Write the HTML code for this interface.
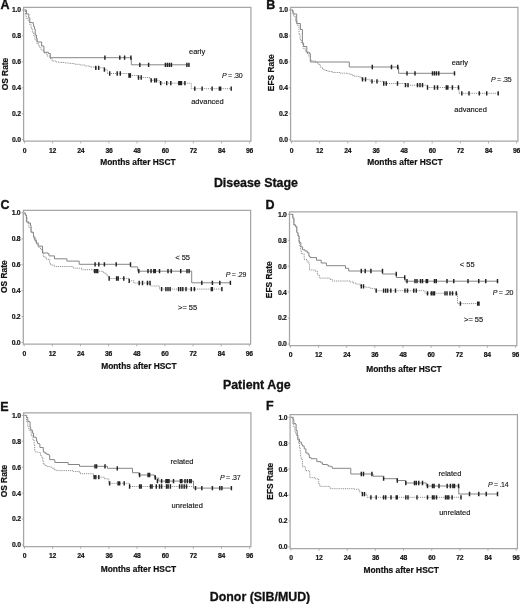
<!DOCTYPE html>
<html><head><meta charset="utf-8"><style>
html,body{margin:0;padding:0;background:#fff;width:520px;height:604px;overflow:hidden}
svg{display:block;filter:blur(0.3px)}
text{font-family:"Liberation Sans",sans-serif;fill:#111}
.tl{font-size:6.8px;font-weight:bold;letter-spacing:-0.25px;stroke:#111;stroke-width:0.18px}
.at{font-size:8.4px;font-weight:bold;stroke:#111;stroke-width:0.2px}
.pl{font-size:12.5px;font-weight:bold;stroke:#111;stroke-width:0.35px}
.tt{font-size:12.4px;font-weight:bold;stroke:#111;stroke-width:0.3px}
.lb{font-size:7.5px;stroke:#222;stroke-width:0.15px}
.pv{font-size:7px;letter-spacing:-0.3px;stroke:#222;stroke-width:0.12px}
</style></head><body>
<svg width="520" height="604" viewBox="0 0 520 604">
<path d="M23.6 7.4H250.92V141.2H23.6Z" fill="none" stroke="#a6a6a6" stroke-width="1.25"/>
<path d="M24.5 141.2v2.2M52.64 141.2v2.2M80.78 141.2v2.2M108.92 141.2v2.2M137.06 141.2v2.2M165.2 141.2v2.2M193.34 141.2v2.2M221.48 141.2v2.2M249.62 141.2v2.2M23.6 139.6h-1.8M23.6 113.68h-1.8M23.6 87.76h-1.8M23.6 61.84h-1.8M23.6 35.92h-1.8M23.6 10h-1.8" stroke="#a6a6a6" stroke-width="0.9" fill="none"/>
<text x="24.5" y="152.8" class="tl" text-anchor="middle">0</text>
<text x="52.64" y="152.8" class="tl" text-anchor="middle">12</text>
<text x="80.78" y="152.8" class="tl" text-anchor="middle">24</text>
<text x="108.92" y="152.8" class="tl" text-anchor="middle">36</text>
<text x="137.06" y="152.8" class="tl" text-anchor="middle">48</text>
<text x="165.2" y="152.8" class="tl" text-anchor="middle">60</text>
<text x="193.34" y="152.8" class="tl" text-anchor="middle">72</text>
<text x="221.48" y="152.8" class="tl" text-anchor="middle">84</text>
<text x="249.62" y="152.8" class="tl" text-anchor="middle">96</text>
<text x="20.7" y="142" class="tl" text-anchor="end">0.0</text>
<text x="20.7" y="116.08" class="tl" text-anchor="end">0.2</text>
<text x="20.7" y="90.16" class="tl" text-anchor="end">0.4</text>
<text x="20.7" y="64.24" class="tl" text-anchor="end">0.6</text>
<text x="20.7" y="38.32" class="tl" text-anchor="end">0.8</text>
<text x="20.7" y="12.4" class="tl" text-anchor="end">1.0</text>
<text x="137.9" y="164.8" class="at" text-anchor="middle">Months after HSCT</text>
<text class="at" text-anchor="middle" transform="translate(7.9 74.05) rotate(-90)">OS Rate</text>
<text x="0.5" y="8.5" class="pl">A</text>
<path d="M24.5 10H26.5V14H28.8V18H29.8V22.6H33.2V24H33.6V26.5H34.5V29H35.2V35H36.5V38.5H37.2V42H41.6V46H43.9V52.3H48.5V53.5H50.3V57.7H131.3V64.8H189.4" fill="none" stroke="#858585" stroke-width="1"/>
<path d="M24.5 10H25.5V15H26.2V18.5H28.2V21H29.6V24.4H31V28.2H32.4V32.3H33.8V36H35V40H37V44H39V47H41V50H44V53H47V56H50V58.5H52V61H56V62H60V62.5H65V63H70V63.5H75V64.3H80V65H85V66H90V67H95V67.8H104.4V69.7H107.3V73.5H130V75.5H138V77.5H150V80.3H159.3V83.2H191.3V88.7H231.2" fill="none" stroke="#8a8a8a" stroke-width="1" stroke-dasharray="1 0.9"/>
<path d="M104.9 55.55v4.3M119.8 55.55v4.3M124.6 55.55v4.3M130.9 55.55v4.3M139.8 62.65v4.3M148.6 62.65v4.3M165.4 62.65v4.3M167.4 62.65v4.3M169.4 62.65v4.3M171.4 62.65v4.3M186.9 62.65v4.3M188.9 62.65v4.3M95.8 65.65v4.3M98.7 65.65v4.3M104.4 67.55v4.3M109.7 71.35v4.3M117.2 71.35v4.3M120.3 71.35v4.3M129 73.35v4.3M130.4 73.35v4.3M138.5 75.35v4.3M141.2 75.35v4.3M151.2 78.15v4.3M154.6 78.15v4.3M156.4 78.15v4.3M160.7 81.05v4.3M166.7 81.05v4.3M170.8 81.05v4.3M178.8 81.05v4.3M180.2 81.05v4.3M181.5 81.05v4.3M184.9 81.05v4.3M194.8 86.55v4.3M202.1 86.55v4.3M212.1 86.55v4.3M219.4 86.55v4.3M220.6 86.55v4.3M231.2 86.55v4.3" stroke="#222" stroke-width="1.45" fill="none"/>
<text x="189" y="54.3" class="lb">early</text>
<text x="222" y="78.3" class="pv"><tspan font-style="italic">P</tspan> = .30</text>
<text x="191.2" y="103.8" class="lb">advanced</text>
<path d="M290.6 7.4H517.92V141.2H290.6Z" fill="none" stroke="#a6a6a6" stroke-width="1.25"/>
<path d="M291.5 141.2v2.2M319.64 141.2v2.2M347.78 141.2v2.2M375.92 141.2v2.2M404.06 141.2v2.2M432.2 141.2v2.2M460.34 141.2v2.2M488.48 141.2v2.2M516.62 141.2v2.2M290.6 139.6h-1.8M290.6 113.68h-1.8M290.6 87.76h-1.8M290.6 61.84h-1.8M290.6 35.92h-1.8M290.6 10h-1.8" stroke="#a6a6a6" stroke-width="0.9" fill="none"/>
<text x="291.5" y="152.8" class="tl" text-anchor="middle">0</text>
<text x="319.64" y="152.8" class="tl" text-anchor="middle">12</text>
<text x="347.78" y="152.8" class="tl" text-anchor="middle">24</text>
<text x="375.92" y="152.8" class="tl" text-anchor="middle">36</text>
<text x="404.06" y="152.8" class="tl" text-anchor="middle">48</text>
<text x="432.2" y="152.8" class="tl" text-anchor="middle">60</text>
<text x="460.34" y="152.8" class="tl" text-anchor="middle">72</text>
<text x="488.48" y="152.8" class="tl" text-anchor="middle">84</text>
<text x="516.62" y="152.8" class="tl" text-anchor="middle">96</text>
<text x="287.7" y="142" class="tl" text-anchor="end">0.0</text>
<text x="287.7" y="116.08" class="tl" text-anchor="end">0.2</text>
<text x="287.7" y="90.16" class="tl" text-anchor="end">0.4</text>
<text x="287.7" y="64.24" class="tl" text-anchor="end">0.6</text>
<text x="287.7" y="38.32" class="tl" text-anchor="end">0.8</text>
<text x="287.7" y="12.4" class="tl" text-anchor="end">1.0</text>
<text x="404.9" y="165.1" class="at" text-anchor="middle">Months after HSCT</text>
<text class="at" text-anchor="middle" transform="translate(274.4 72.8) rotate(-90)">EFS Rate</text>
<text x="266.2" y="8.5" class="pl">B</text>
<path d="M291.5 10H293V14H296.7V23.5H300.4V29.5H302.4V43H303.6V46.5H306.8V52.3H309.4V53.5H310.3V62H349.3V67H398.6V73.3H454.5" fill="none" stroke="#858585" stroke-width="1"/>
<path d="M291.5 10H292.6V12H293.8V16.5H295.5V21.2H297.2V25.2H299V34.4H300.1V39.6H301.3V43.1H303V48.3H305.3V51.2H307V53.5H308.8V56.3H310.5V59.8H311.7V61H315.7V62.5H318V64.4H320.3V67.3H322.5V69.3H325V70.5H328V71.5H332.5V72.5H340V73.2H347.5V73.8H351V75H353.75V76.3H360V77.5H362V79.3H370V81.3H383.75V83.5H405.5V85.2H427.5V87.5H459V93.3H498.2" fill="none" stroke="#8a8a8a" stroke-width="1" stroke-dasharray="1 0.9"/>
<path d="M372.3 64.85v4.3M391.5 64.85v4.3M397.7 64.85v4.3M407 71.15v4.3M415 71.15v4.3M432.5 71.15v4.3M434.5 71.15v4.3M436.5 71.15v4.3M438.75 71.15v4.3M454.5 71.15v4.3M362.5 77.15v4.3M365.5 77.15v4.3M372 79.15v4.3M377 79.15v4.3M383.75 81.35v4.3M386.25 81.35v4.3M397.5 81.35v4.3M405.5 83.05v4.3M408 83.05v4.3M417.5 83.05v4.3M420 83.05v4.3M422.5 83.05v4.3M427.5 85.35v4.3M434.5 85.35v4.3M437.5 85.35v4.3M446.3 85.35v4.3M447.8 85.35v4.3M452.4 85.35v4.3M458.5 85.35v4.3M461.8 91.15v4.3M469 91.15v4.3M479.3 91.15v4.3M486.7 91.15v4.3M498.2 91.15v4.3" stroke="#222" stroke-width="1.45" fill="none"/>
<text x="451.7" y="64.5" class="lb">early</text>
<text x="491" y="82.1" class="pv"><tspan font-style="italic">P</tspan> = .35</text>
<text x="454.3" y="112.2" class="lb">advanced</text>
<path d="M23.3 210.3H250.62V344.1H23.3Z" fill="none" stroke="#a6a6a6" stroke-width="1.25"/>
<path d="M24.2 344.1v2.2M52.34 344.1v2.2M80.48 344.1v2.2M108.62 344.1v2.2M136.76 344.1v2.2M164.9 344.1v2.2M193.04 344.1v2.2M221.18 344.1v2.2M249.32 344.1v2.2M23.3 342.5h-1.8M23.3 316.58h-1.8M23.3 290.66h-1.8M23.3 264.74h-1.8M23.3 238.82h-1.8M23.3 212.9h-1.8" stroke="#a6a6a6" stroke-width="0.9" fill="none"/>
<text x="24.2" y="355.7" class="tl" text-anchor="middle">0</text>
<text x="52.34" y="355.7" class="tl" text-anchor="middle">12</text>
<text x="80.48" y="355.7" class="tl" text-anchor="middle">24</text>
<text x="108.62" y="355.7" class="tl" text-anchor="middle">36</text>
<text x="136.76" y="355.7" class="tl" text-anchor="middle">48</text>
<text x="164.9" y="355.7" class="tl" text-anchor="middle">60</text>
<text x="193.04" y="355.7" class="tl" text-anchor="middle">72</text>
<text x="221.18" y="355.7" class="tl" text-anchor="middle">84</text>
<text x="249.32" y="355.7" class="tl" text-anchor="middle">96</text>
<text x="20.4" y="344.9" class="tl" text-anchor="end">0.0</text>
<text x="20.4" y="318.98" class="tl" text-anchor="end">0.2</text>
<text x="20.4" y="293.06" class="tl" text-anchor="end">0.4</text>
<text x="20.4" y="267.14" class="tl" text-anchor="end">0.6</text>
<text x="20.4" y="241.22" class="tl" text-anchor="end">0.8</text>
<text x="20.4" y="215.3" class="tl" text-anchor="end">1.0</text>
<text x="138.85" y="368.8" class="at" text-anchor="middle">Months after HSCT</text>
<text class="at" text-anchor="middle" transform="translate(7 276.7) rotate(-90)">OS Rate</text>
<text x="0.5" y="208.6" class="pl">C</text>
<path d="M24.2 212.9H25.2V214.9H26.4V221.8H28.5V223H30.5V225.3H31V232.2H33V233.4H33.5V236.8H34.7V240.3H36.4V243.8H38.2V246.1H42.5V253H48V253.6H49V255.9H54.5V258.8H66.9V261.1H79.2V264.3H130.5V266.9H137.7V271.2H191.7V282.8H230.4" fill="none" stroke="#858585" stroke-width="1"/>
<path d="M24.2 212.9H24.9V214H26V217.2H27.2V223H28.9V227.6H31.2V232.2H33.5V238H35.8V242.6H38.2V247.2H40.5V249.5H42.8V251.8H43.3V256.5H45.1V257.6H46.2V259.3H49.7V263.4H50.8V265.1H54.6V266.5H73.1V268.2H81.5V269.7H93.1V271.2H103V272.5H105V274H107V276H108.9V278.5H129.2V280.8H133.8V283H150.5V286H159.5V289.1H222" fill="none" stroke="#8a8a8a" stroke-width="1" stroke-dasharray="1 0.9"/>
<path d="M95.1 262.15v4.3M98.8 262.15v4.3M104.4 262.15v4.3M116.2 262.15v4.3M130.5 262.15v4.3M138.8 269.05v4.3M148 269.05v4.3M151 269.05v4.3M153.8 269.05v4.3M155.3 269.05v4.3M159.5 269.05v4.3M168 269.05v4.3M171.2 269.05v4.3M180.7 269.05v4.3M187 269.05v4.3M189.1 269.05v4.3M201.8 280.65v4.3M212.4 280.65v4.3M219.8 280.65v4.3M230.4 280.65v4.3M94.6 269.05v4.3M96.2 269.05v4.3M97.7 269.05v4.3M109.2 276.35v4.3M116.6 276.35v4.3M118.2 276.35v4.3M123.8 276.35v4.3M129.2 278.65v4.3M139.2 280.85v4.3M142.5 280.85v4.3M147.5 280.85v4.3M150 280.85v4.3M161.6 286.95v4.3M165.9 286.95v4.3M168 286.95v4.3M170.1 286.95v4.3M178.6 286.95v4.3M180.7 286.95v4.3M182.8 286.95v4.3M186 286.95v4.3M191.3 286.95v4.3M194.4 286.95v4.3M211.4 286.95v4.3M212.4 286.95v4.3M221.9 286.95v4.3" stroke="#222" stroke-width="1.45" fill="none"/>
<text x="175.2" y="260" class="lb">&lt; 55</text>
<text x="225.7" y="276.9" class="pv"><tspan font-style="italic">P</tspan> = .29</text>
<text x="178" y="309.6" class="lb">&gt;= 55</text>
<path d="M289.5 211.8H516.82V345.6H289.5Z" fill="none" stroke="#a6a6a6" stroke-width="1.25"/>
<path d="M290.4 345.6v2.2M318.54 345.6v2.2M346.68 345.6v2.2M374.82 345.6v2.2M402.96 345.6v2.2M431.1 345.6v2.2M459.24 345.6v2.2M487.38 345.6v2.2M515.52 345.6v2.2M289.5 344h-1.8M289.5 318.08h-1.8M289.5 292.16h-1.8M289.5 266.24h-1.8M289.5 240.32h-1.8M289.5 214.4h-1.8" stroke="#a6a6a6" stroke-width="0.9" fill="none"/>
<text x="290.4" y="357.2" class="tl" text-anchor="middle">0</text>
<text x="318.54" y="357.2" class="tl" text-anchor="middle">12</text>
<text x="346.68" y="357.2" class="tl" text-anchor="middle">24</text>
<text x="374.82" y="357.2" class="tl" text-anchor="middle">36</text>
<text x="402.96" y="357.2" class="tl" text-anchor="middle">48</text>
<text x="431.1" y="357.2" class="tl" text-anchor="middle">60</text>
<text x="459.24" y="357.2" class="tl" text-anchor="middle">72</text>
<text x="487.38" y="357.2" class="tl" text-anchor="middle">84</text>
<text x="515.52" y="357.2" class="tl" text-anchor="middle">96</text>
<text x="286.6" y="346.4" class="tl" text-anchor="end">0.0</text>
<text x="286.6" y="320.48" class="tl" text-anchor="end">0.2</text>
<text x="286.6" y="294.56" class="tl" text-anchor="end">0.4</text>
<text x="286.6" y="268.64" class="tl" text-anchor="end">0.6</text>
<text x="286.6" y="242.72" class="tl" text-anchor="end">0.8</text>
<text x="286.6" y="216.8" class="tl" text-anchor="end">1.0</text>
<text x="403.9" y="371.8" class="at" text-anchor="middle">Months after HSCT</text>
<text class="at" text-anchor="middle" transform="translate(271.9 279.8) rotate(-90)">EFS Rate</text>
<text x="265.5" y="208.6" class="pl">D</text>
<path d="M290.4 214.4H291.6V214.4H292.8V218.1H293.9V225H295.7V226.7H296.8V232.5H298V236H299.1V242.3H300.8V246.9H302.6V249.8H304.9V251H307.2V252.7H308.9V256.2H310.1V257.6H316.5V260.2H321.2V263H326.4V265.7H345.5V268.3H348.7V271H382.5V274H396.3V277.5H405V281.2H497.5" fill="none" stroke="#858585" stroke-width="1"/>
<path d="M290.4 214.4H291.6V214.4H292.8V218.1H293.9V225H295.7V226.7H296.8V232.5H298V236H299.1V242.3H299.6V245.6H300.6V250H301.3V253.8H304.2V259.6H307.1V261.9H308.9V264.2H309.5V270H315.3V271.2H317.5V275H319.3V278.1H329.8V279.3H332.1V281H350V282H353V283H356.1V284.1H360.3V286.3H365V287.3H369.8V288.4H375.1V290.7H425V293.3H457.5V303.6H478.7" fill="none" stroke="#8a8a8a" stroke-width="1" stroke-dasharray="1 0.9"/>
<path d="M361.3 268.85v4.3M365.2 268.85v4.3M370.9 268.85v4.3M382.5 268.85v4.3M396.3 271.85v4.3M404.7 275.35v4.3M407 279.05v4.3M415 279.05v4.3M417 279.05v4.3M420.5 279.05v4.3M422.5 279.05v4.3M426.25 279.05v4.3M427.5 279.05v4.3M434.5 279.05v4.3M436.25 279.05v4.3M447 279.05v4.3M453.75 279.05v4.3M468 279.05v4.3M478.75 279.05v4.3M485.75 279.05v4.3M497.5 279.05v4.3M361.3 284.15v4.3M363.5 284.15v4.3M376.2 288.55v4.3M383.6 288.55v4.3M385.7 288.55v4.3M387.7 288.55v4.3M390.8 288.55v4.3M395.5 288.55v4.3M405 288.55v4.3M407.5 288.55v4.3M413.75 288.55v4.3M416.25 288.55v4.3M427.5 291.15v4.3M431.25 291.15v4.3M433 291.15v4.3M434.5 291.15v4.3M445 291.15v4.3M447 291.15v4.3M450 291.15v4.3M452.5 291.15v4.3M456.25 291.15v4.3M460.4 301.45v4.3M477.7 301.45v4.3M479 301.45v4.3" stroke="#222" stroke-width="1.45" fill="none"/>
<text x="459.8" y="267.2" class="lb">&lt; 55</text>
<text x="492.8" y="295.1" class="pv"><tspan font-style="italic">P</tspan> = .20</text>
<text x="464" y="321.5" class="lb">&gt;= 55</text>
<path d="M23.6 412.8H250.92V546.6H23.6Z" fill="none" stroke="#a6a6a6" stroke-width="1.25"/>
<path d="M24.5 546.6v2.2M52.64 546.6v2.2M80.78 546.6v2.2M108.92 546.6v2.2M137.06 546.6v2.2M165.2 546.6v2.2M193.34 546.6v2.2M221.48 546.6v2.2M249.62 546.6v2.2M23.6 545h-1.8M23.6 519.08h-1.8M23.6 493.16h-1.8M23.6 467.24h-1.8M23.6 441.32h-1.8M23.6 415.4h-1.8" stroke="#a6a6a6" stroke-width="0.9" fill="none"/>
<text x="24.5" y="558.2" class="tl" text-anchor="middle">0</text>
<text x="52.64" y="558.2" class="tl" text-anchor="middle">12</text>
<text x="80.78" y="558.2" class="tl" text-anchor="middle">24</text>
<text x="108.92" y="558.2" class="tl" text-anchor="middle">36</text>
<text x="137.06" y="558.2" class="tl" text-anchor="middle">48</text>
<text x="165.2" y="558.2" class="tl" text-anchor="middle">60</text>
<text x="193.34" y="558.2" class="tl" text-anchor="middle">72</text>
<text x="221.48" y="558.2" class="tl" text-anchor="middle">84</text>
<text x="249.62" y="558.2" class="tl" text-anchor="middle">96</text>
<text x="20.7" y="547.4" class="tl" text-anchor="end">0.0</text>
<text x="20.7" y="521.48" class="tl" text-anchor="end">0.2</text>
<text x="20.7" y="495.56" class="tl" text-anchor="end">0.4</text>
<text x="20.7" y="469.64" class="tl" text-anchor="end">0.6</text>
<text x="20.7" y="443.72" class="tl" text-anchor="end">0.8</text>
<text x="20.7" y="417.8" class="tl" text-anchor="end">1.0</text>
<text x="138.4" y="571.7" class="at" text-anchor="middle">Months after HSCT</text>
<text class="at" text-anchor="middle" transform="translate(7.4 481.05) rotate(-90)">OS Rate</text>
<text x="0.2" y="410.5" class="pl">E</text>
<path d="M24.5 415.4H25.5V415.4H26.6V417.5H27.8V421.5H29.7V422.1H30.1V427.3H30.7V430.2H32.4V433.1H33.5V437.1H35.8V437.7H36.4V441.2H37.6V443.5H39.3V444H39.9V447.5H42.8V447.5H43.3V452.1H45.1V453.3H46.8V454.4H49.1V455.6H49.7V459.6H54.3V460.2H54.9V462.5H67.9V462.5H68.2V464.5H79.5V466.3H107.5V468.3H132.5V472.7H138.8V475H154.5V478.1H158.75V481.1H193.5V488.1H231.4" fill="none" stroke="#858585" stroke-width="1"/>
<path d="M24.5 415.4H25.5V415.4H26.6V421.5H27.8V426.2H28.9V430.2H31.2V435.4H33V440H34.1V444.6H34.7V451H35.8V452.1H39.3V452.7H40.5V455.6H41.6V457.3H42.8V460.8H43.3V464.2H45.1V465.4H46.8V466.5H49.7V467.1H52V468.3H54.3V470H56.6V470.6H73.3V471.5H80V473.7H93.5V477.2H104.5V478.8H108.75V483.3H129.6V486.5H193.5V488.1H195" fill="none" stroke="#8a8a8a" stroke-width="1" stroke-dasharray="1 0.9"/>
<path d="M95 464.15v4.3M96.6 464.15v4.3M105 464.15v4.3M117.3 466.15v4.3M139.6 472.85v4.3M148.1 472.85v4.3M149.6 472.85v4.3M155.3 475.35v4.3M157.4 478.95v4.3M161.6 478.95v4.3M166 478.95v4.3M167.5 478.95v4.3M169 478.95v4.3M173.5 478.95v4.3M180.4 478.95v4.3M181.9 478.95v4.3M185 478.95v4.3M187.3 478.95v4.3M189.6 478.95v4.3M191.2 478.95v4.3M195.5 485.95v4.3M201.8 485.95v4.3M212.4 485.95v4.3M219.8 485.95v4.3M221.9 485.95v4.3M231.4 485.95v4.3M94.2 475.05v4.3M95.8 475.05v4.3M98.8 475.05v4.3M109.6 481.15v4.3M118.1 481.15v4.3M119.6 481.15v4.3M124.2 481.15v4.3M129.6 484.35v4.3M139.6 484.35v4.3M141.2 484.35v4.3M150.5 484.35v4.3M152.1 484.35v4.3M156.3 484.35v4.3M159.5 484.35v4.3M161.6 484.35v4.3M166.5 484.35v4.3M168.1 484.35v4.3M170.4 484.35v4.3M179.6 484.35v4.3M181.9 484.35v4.3M184.2 484.35v4.3M186.5 484.35v4.3" stroke="#222" stroke-width="1.45" fill="none"/>
<text x="170.6" y="463.9" class="lb">related</text>
<text x="220" y="479.5" class="pv"><tspan font-style="italic">P</tspan> = .37</text>
<text x="171.6" y="508.1" class="lb">unrelated</text>
<path d="M290.1 414.7H517.42V548.5H290.1Z" fill="none" stroke="#a6a6a6" stroke-width="1.25"/>
<path d="M291 548.5v2.2M319.14 548.5v2.2M347.28 548.5v2.2M375.42 548.5v2.2M403.56 548.5v2.2M431.7 548.5v2.2M459.84 548.5v2.2M487.98 548.5v2.2M516.12 548.5v2.2M290.1 546.9h-1.8M290.1 520.98h-1.8M290.1 495.06h-1.8M290.1 469.14h-1.8M290.1 443.22h-1.8M290.1 417.3h-1.8" stroke="#a6a6a6" stroke-width="0.9" fill="none"/>
<text x="291" y="560.1" class="tl" text-anchor="middle">0</text>
<text x="319.14" y="560.1" class="tl" text-anchor="middle">12</text>
<text x="347.28" y="560.1" class="tl" text-anchor="middle">24</text>
<text x="375.42" y="560.1" class="tl" text-anchor="middle">36</text>
<text x="403.56" y="560.1" class="tl" text-anchor="middle">48</text>
<text x="431.7" y="560.1" class="tl" text-anchor="middle">60</text>
<text x="459.84" y="560.1" class="tl" text-anchor="middle">72</text>
<text x="487.98" y="560.1" class="tl" text-anchor="middle">84</text>
<text x="516.12" y="560.1" class="tl" text-anchor="middle">96</text>
<text x="287.2" y="549.3" class="tl" text-anchor="end">0.0</text>
<text x="287.2" y="523.38" class="tl" text-anchor="end">0.2</text>
<text x="287.2" y="497.46" class="tl" text-anchor="end">0.4</text>
<text x="287.2" y="471.54" class="tl" text-anchor="end">0.6</text>
<text x="287.2" y="445.62" class="tl" text-anchor="end">0.8</text>
<text x="287.2" y="419.7" class="tl" text-anchor="end">1.0</text>
<text x="401.2" y="572.7" class="at" text-anchor="middle">Months after HSCT</text>
<text class="at" text-anchor="middle" transform="translate(272.7 481.3) rotate(-90)">EFS Rate</text>
<text x="265.9" y="410.3" class="pl">F</text>
<path d="M291 417.3H291.5V417.3H293.2V419.5H293.8V423.5H295.5V424.1H296.1V430.5H297.2V435.1H297.8V439.1H299.5V442H301.3V444.3H302.4V446H304.2V448.9H305.9V453H308.2V454.7H309.3V457.6H311.1V458.7H315.7V458.7H316.8V461.6H320.9V462.8H322.6V464.5H327.2V465.1H328.4V466.2H331.3V466.8H332.4V468.3H345.7V468.3H350.8V474H373V476.2H383.6V478.7H397V480.5H405.5V483H426.25V486H458.75V494H497.5" fill="none" stroke="#858585" stroke-width="1"/>
<path d="M291 417.3H291.5V417.3H292.6V423.5H293.8V427H294.9V432.2H296.1V435.1H297.8V439.7H298.4V443.2H299.5V447.8H300.2V452H300.7V457H301.3V459.7H302.5V466.7H305.4V470.7H309.3V471.3H309.8V477.7H315.3V478.9H318.7V484.1H319.9V486.4H329.2V487H330.3V488.7H353.9V489.2H359.2V492H362.5V494.1H367V497.3H461.25" fill="none" stroke="#8a8a8a" stroke-width="1" stroke-dasharray="1 0.9"/>
<path d="M361.3 471.85v4.3M363.5 471.85v4.3M371.9 471.85v4.3M383.6 476.55v4.3M397.3 478.35v4.3M405.8 480.85v4.3M414.5 480.85v4.3M416.25 480.85v4.3M418.75 480.85v4.3M422.5 480.85v4.3M427.5 483.85v4.3M432.5 483.85v4.3M434.1 483.85v4.3M439 483.85v4.3M447.2 483.85v4.3M450.4 483.85v4.3M452.9 483.85v4.3M454.5 483.85v4.3M458.6 483.85v4.3M469.5 491.85v4.3M478.75 491.85v4.3M486.25 491.85v4.3M497.5 491.85v4.3M362.4 491.95v4.3M364.5 491.95v4.3M370.9 495.15v4.3M376.2 495.15v4.3M383.6 495.15v4.3M385.7 495.15v4.3M391 495.15v4.3M396.25 495.15v4.3M397.3 495.15v4.3M405.8 495.15v4.3M408 495.15v4.3M417 495.15v4.3M427.5 495.15v4.3M432.5 495.15v4.3M434.1 495.15v4.3M436.5 495.15v4.3M445.5 495.15v4.3M447.2 495.15v4.3M448.8 495.15v4.3M452.1 495.15v4.3M461 495.15v4.3" stroke="#222" stroke-width="1.45" fill="none"/>
<text x="438.5" y="475.5" class="lb">related</text>
<text x="488" y="486.8" class="pv"><tspan font-style="italic">P</tspan> = .14</text>
<text x="439.2" y="514.8" class="lb">unrelated</text>
<text x="255.9" y="186.6" class="tt" text-anchor="middle">Disease Stage</text>
<text x="256.8" y="388.6" class="tt" text-anchor="middle">Patient Age</text>
<text x="260" y="601" class="tt" text-anchor="middle">Donor (SIB/MUD)</text>
</svg>
</body></html>
